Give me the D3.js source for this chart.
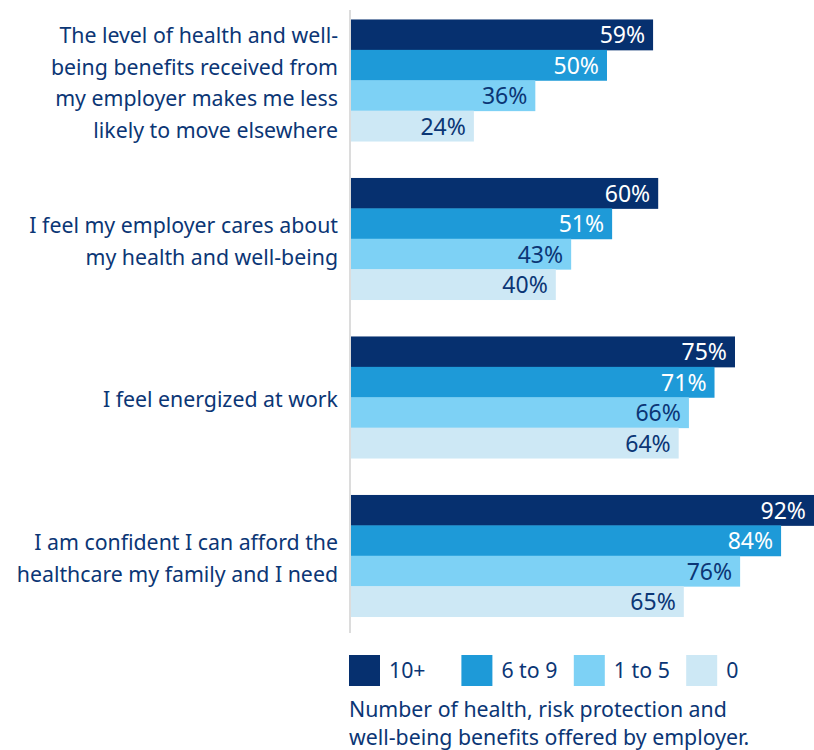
<!DOCTYPE html>
<html>
<head>
<meta charset="utf-8">
<script src="https://cdn.jsdelivr.net/npm/d3@7"></script>
<style>
    body { margin: 0; background: #fff; }
    text { font-family: "Noto Sans", sans-serif; }
</style>
</head>
<body>
<div id="chart"></div>
<script>
// categories (label lines)
const categories = [
    ["The level of health and well-", "being benefits received from", "my employer makes me less", "likely to move elsewhere"],
    ["I feel my employer cares about", "my health and well-being"],
    ["I feel energized at work"],
    ["I am confident I can afford the", "healthcare my family and I need"]
];
const seriesNames = ["10+", "6 to 9", "1 to 5", "0"];
const values10plus = [59, 60, 75, 92];
const values6to9 = [50, 51, 71, 84];
const values1to5 = [36, 43, 66, 76];
const values0 = [24, 40, 64, 65];
const legendTitle = ["Number of health, risk protection and", "well-being benefits offered by employer."];

const allSeries = [values10plus, values6to9, values1to5, values0];
const colors = ["#06306f", "#1e9ad8", "#7dd1f5", "#cde8f5"];
const labelColors = ["#ffffff", "#ffffff", "#0b3675", "#0b3675"];
const textColor = "#0b3675";
const fontSize = 21.3;

const width = 814, height = 750;
const svg = d3.select("#chart").append("svg")
    .attr("width", width)
    .attr("height", height);

const x = d3.scaleLinear()
    .domain([0, 100])
    .range([351, 863]);

const y = d3.scaleBand()
    .domain(d3.range(categories.length))
    .range([1, 635])
    .paddingInner(0.233)
    .paddingOuter(0.1165);

const ySub = d3.scaleBand()
    .domain(d3.range(seriesNames.length))
    .range([0, y.bandwidth()]);

// axis line
svg.append("line")
    .attr("x1", 350).attr("x2", 350)
    .attr("y1", 10).attr("y2", 633)
    .attr("stroke", "#dcdcdc")
    .attr("stroke-width", 2);

// bars
const groups = svg.selectAll(".group")
    .data(categories)
    .enter()
    .append("g")
    .attr("transform", (d, i) => `translate(0, ${y(i)})`);

groups.each(function (cat, ci) {
    let g = d3.select(this);
    allSeries.forEach((vals, si) => {
        g.append("rect")
            .attr("x", x(0))
            .attr("y", ySub(si))
            .attr("width", x(vals[ci]) - x(0))
            .attr("height", ySub.bandwidth() + 0.5)
            .attr("fill", colors[si]);
        g.append("text")
            .attr("x", Math.min(x(vals[ci]), width) - 8)
            .attr("y", ySub(si) + ySub.bandwidth() / 2)
            .attr("dy", "0.38em")
            .attr("text-anchor", "end")
            .attr("font-size", 23)
            .attr("fill", labelColors[si])
            .text(vals[ci] + "%");
    });

    // category label
    let lineH = 31.7;
    let n = cat.length;
    let label = g.append("text")
        .attr("text-anchor", "end")
        .attr("font-size", fontSize)
        .attr("fill", textColor);
    cat.forEach((line, li) => {
        label.append("tspan")
            .attr("x", 338)
            .attr("y", y.bandwidth() / 2 + (li - (n - 1) / 2) * lineH)
            .attr("dy", "0.48em")
            .text(line);
    });
});

// legend
const legend = svg.append("g");
const legendItems = legend.selectAll(".item")
    .data(seriesNames)
    .enter()
    .append("g")
    .attr("transform", (d, i) => `translate(${349 + i * 112.4}, 655)`);
legendItems.append("rect")
    .attr("width", 31)
    .attr("height", 31)
    .attr("fill", (d, i) => colors[i]);
legendItems.append("text")
    .attr("x", 40)
    .attr("y", 15.5)
    .attr("dy", "0.36em")
    .attr("font-size", fontSize)
    .attr("fill", textColor)
    .text(d => d);

legend.append("text")
    .attr("font-size", fontSize)
    .attr("fill", textColor)
    .selectAll("tspan")
    .data(legendTitle)
    .enter()
    .append("tspan")
    .attr("x", 349)
    .attr("y", (d, i) => 717 + i * 28)
    .text(d => d);
</script>
</body>
</html>
